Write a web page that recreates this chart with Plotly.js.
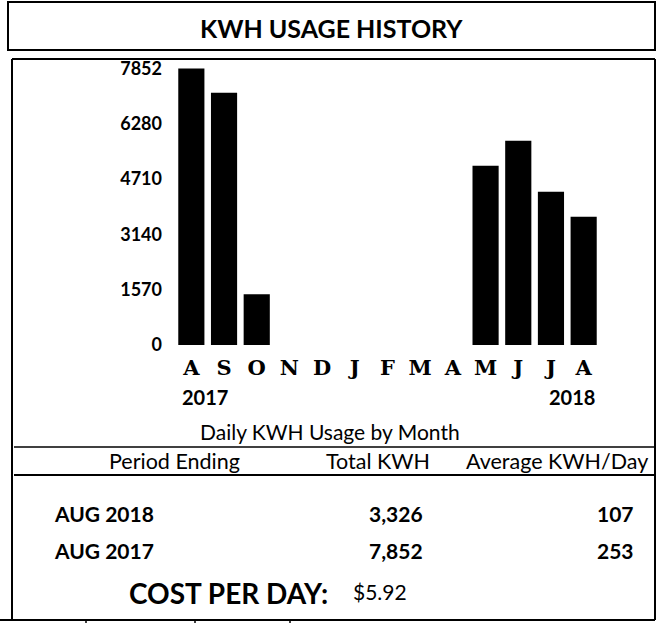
<!DOCTYPE html>
<html>
<head>
<meta charset="utf-8">
<script src="https://cdn.plot.ly/plotly-3.0.1.min.js"></script>
<style>
  html, body { margin: 0; padding: 0; background: #ffffff; }
  #chart { width: 662px; height: 623px; }
</style>
</head>
<body>
<div id="chart"></div>
<script>
// ---- data ----
const periods = ['Aug 2017','Sep 2017','Oct 2017','Nov 2017','Dec 2017','Jan 2018','Feb 2018',
                 'Mar 2018','Apr 2018','May 2018','Jun 2018','Jul 2018','Aug 2018'];
const monthLetters = ['A','S','O','N','D','J','F','M','A','M','J','J','A'];
const kwhValues = [7852, 7160, 1440, null, null, null, null, null, null, 5090, 5800, 4350, 3640];
const yTickVals = [0, 1570, 3140, 4710, 6280, 7852];
const yTickText = ['0', '1570', '3140', '4710', '6280', '7852'];
const yearLabels = ['2017', '2018'];
const tableHeaders = ['Period Ending', 'Total KWH', 'Average KWH/Day'];
const tablePeriods = ['AUG 2018', 'AUG 2017'];
const tableTotals = ['3,326', '7,852'];
const tableAverages = ['107', '253'];
const costLabel = 'COST PER DAY:';
const costValue = '$5.92';

// ---- layout helpers (pixel -> paper) ----
const W = 662, H = 623;
const ML = 175, MR = 62, MT = 60, MB = 278;
const PW = W - ML - MR, PH = H - MT - MB;
const px = x => (x - ML) / PW;
const py = y => (MT + PH - y) / PH;

const SANS = 'Lato, "Open Sans", sans-serif';

const trace = {
  type: 'bar',
  x: periods,
  y: kwhValues,
  marker: { color: '#000000', line: { width: 0 } },
  hoverinfo: 'x+y'
};

function line(x0, y0, x1, y1, w) {
  return { type: 'line', xref: 'paper', yref: 'paper',
           x0: px(x0), y0: py(y0), x1: px(x1), y1: py(y1),
           line: { color: '#000', width: w || 2 } };
}

const shapes = [
  { type: 'rect', xref: 'paper', yref: 'paper',
    x0: px(8), x1: px(655), y0: py(50), y1: py(2),
    line: { color: '#000', width: 2 } },
  line(12, 59, 655, 59, 2),
  line(12, 59, 12, 620, 2),
  line(655, 59, 655, 620, 2),
  line(14, 447, 654, 447, 1.5),
  line(14, 475, 654, 475, 2),
  line(0, 620, 655, 620, 2),
  line(86, 620, 86, 623, 1.5),
  line(195, 620, 195, 623, 1.5),
  line(290, 620, 290, 623, 1.5)
];

function ann(text, x, y, size, opts) {
  return Object.assign({
    text: text, xref: 'paper', yref: 'paper', x: px(x), y: py(y),
    xanchor: 'center', yanchor: 'middle', showarrow: false,
    font: { family: SANS, size: size, color: '#000' }
  }, opts || {});
}

const annotations = [
  ann('<b>KWH USAGE HISTORY</b>', 331, 28, 25),
  ann('<b>' + yearLabels[0] + '</b>', 205, 397, 20),
  ann('<b>' + yearLabels[1] + '</b>', 572, 397, 20),
  ann('Daily KWH Usage by Month', 330, 431, 21),
  ann(tableHeaders[0], 174, 461, 21.5),
  ann(tableHeaders[1], 378, 461, 21.5),
  ann(tableHeaders[2], 557, 461, 21.5),
  ann('<b>' + costLabel + '</b>', 127, 593, 28, { xanchor: 'left' }),
  ann(costValue, 351, 591, 21, { xanchor: 'left' })
];
const rowY = [513, 550];
tablePeriods.forEach((p, i) => {
  annotations.push(ann('<b>' + p + '</b>', 52, rowY[i], 21, { xanchor: 'left' }));
  annotations.push(ann('<b>' + tableTotals[i] + '</b>', 425, rowY[i], 21, { xanchor: 'right' }));
  annotations.push(ann('<b>' + tableAverages[i] + '</b>', 636, rowY[i], 21, { xanchor: 'right' }));
});

const layout = {
  width: W, height: H,
  margin: { l: ML, r: MR, t: MT, b: MB, pad: 0 },
  paper_bgcolor: '#ffffff',
  plot_bgcolor: 'rgba(0,0,0,0)',
  showlegend: false,
  bargap: 0.2,
  xaxis: {
    type: 'category',
    tickmode: 'array',
    tickvals: periods,
    ticktext: monthLetters,
    tickfont: { family: '"DejaVu Serif", serif', size: 21, color: '#000', weight: 'bold' },
    showgrid: false, zeroline: false, showline: false, ticks: '',
    ticklabelstandoff: 8,
    fixedrange: true
  },
  yaxis: {
    range: [0, 8090],
    tickmode: 'array',
    tickvals: yTickVals,
    ticktext: yTickText,
    tickfont: { family: SANS, size: 18, color: '#000', weight: 'bold' },
    showgrid: false, zeroline: false, showline: false, ticks: '',
    ticklabelstandoff: 12,
    fixedrange: true
  },
  shapes: shapes,
  annotations: annotations
};

Plotly.newPlot('chart', [trace], layout, { displayModeBar: false, staticPlot: true });
</script>
</body>
</html>
